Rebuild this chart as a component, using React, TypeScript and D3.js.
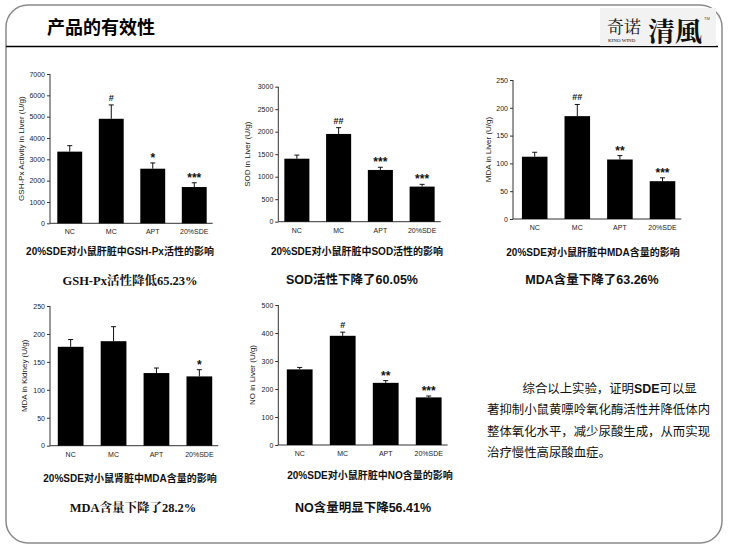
import React, { useEffect, useRef } from "react";
import * as d3 from "d3";

// groups shared by every panel
const groups = ["NC", "MC", "APT", "20%SDE"];

// GSH-Px activity in liver
const gshPx = [3360, 4900, 2560, 1700];
const gshPxErr = [280, 650, 270, 200];
const gshPxSig = ["", "#", "*", "***"];

// SOD in liver
const sod = [1400, 1950, 1150, 780];
const sodErr = [80, 140, 60, 50];
const sodSig = ["", "##", "***", "***"];

// MDA in liver
const mdaLiver = [112, 185, 107, 68];
const mdaLiverErr = [8, 21, 7, 6];
const mdaLiverSig = ["", "##", "**", "***"];

// MDA in kidney
const mdaKidney = [177, 187, 130, 124];
const mdaKidneyErr = [13, 26, 9, 12];
const mdaKidneySig = ["", "", "", "*"];

// NO in liver
const noLiver = [270, 390, 222, 170];
const noLiverErr = [7, 13, 8, 5];
const noLiverSig = ["", "#", "**", "***"];

// conclusion, split into lines; "SDE" is set in bold
const summary = [
  ["综合以上实验，证明", "SDE", "可以显"],
  ["著抑制小鼠黄嘌呤氧化酶活性并降低体内"],
  ["整体氧化水平，减少尿酸生成，从而实现"],
  ["治疗慢性高尿酸血症。"],
];

const SANS = "'Liberation Sans', Arial, 'Noto Sans CJK SC', sans-serif";
const SERIF = "'Liberation Serif', 'Noto Serif CJK SC', 'Noto Sans CJK SC', serif";

type Panel = {
  values: number[];
  errors: number[];
  sig: string[];
  max: number;
  step: number;
  yLabel: string;
  caption: string;
  result: string;
  resultFont: string;
  // layout
  axisX: number;
  yTop: number;
  yZero: number;
  band: [number, number];
  yLabelX: number;
  captionX: number;
  captionY: number;
  resultX: number;
  resultY: number;
};

const panels: Panel[] = [
  {
    values: gshPx, errors: gshPxErr, sig: gshPxSig, max: 7000, step: 1000,
    yLabel: "GSH-Px Activity in Liver (U/g)",
    caption: "20%SDE对小鼠肝脏中GSH-Px活性的影响",
    result: "GSH-Px活性降低65.23%", resultFont: SERIF,
    axisX: 50, yTop: 74, yZero: 223.3, band: [49, 215], yLabelX: 24,
    captionX: 120, captionY: 255, resultX: 130, resultY: 285,
  },
  {
    values: sod, errors: sodErr, sig: sodSig, max: 3000, step: 500,
    yLabel: "SOD in Liver (U/g)",
    caption: "20%SDE对小鼠肝脏中SOD活性的影响",
    result: "SOD活性下降了60.05%", resultFont: SANS,
    axisX: 278.3, yTop: 86.7, yZero: 221.7, band: [276, 443], yLabelX: 250,
    captionX: 357, captionY: 255, resultX: 352, resultY: 284,
  },
  {
    values: mdaLiver, errors: mdaLiverErr, sig: mdaLiverSig, max: 250, step: 50,
    yLabel: "MDA in Liver (U/g)",
    caption: "20%SDE对小鼠肝脏中MDA含量的影响",
    result: "MDA含量下降了63.26%", resultFont: SANS,
    axisX: 513, yTop: 80, yZero: 219, band: [513.4, 683.8], yLabelX: 491,
    captionX: 593, captionY: 256, resultX: 592, resultY: 284,
  },
  {
    values: mdaKidney, errors: mdaKidneyErr, sig: mdaKidneySig, max: 250, step: 50,
    yLabel: "MDA in Kidney (U/g)",
    caption: "20%SDE对小鼠肾脏中MDA含量的影响",
    result: "MDA含量下降了28.2%", resultFont: SERIF,
    axisX: 50, yTop: 306, yZero: 445.7, band: [49.2, 220.8], yLabelX: 27,
    captionX: 130, captionY: 482, resultX: 133, resultY: 512,
  },
  {
    values: noLiver, errors: noLiverErr, sig: noLiverSig, max: 500, step: 100,
    yLabel: "NO in Liver (U/g)",
    caption: "20%SDE对小鼠肝脏中NO含量的影响",
    result: "NO含量明显下降56.41%", resultFont: SANS,
    axisX: 278.3, yTop: 305, yZero: 445, band: [278.2, 450.2], yLabelX: 255,
    captionX: 370, captionY: 479, resultX: 363, resultY: 512,
  },
];

function drawPanel(svg: d3.Selection<SVGSVGElement, unknown, null, undefined>, p: Panel) {
  const g = svg.append("g");
  const x = d3.scaleBand<string>().domain(groups).range(p.band).paddingInner(0.4).paddingOuter(0.2);
  const y = d3.scaleLinear().domain([0, p.max]).range([p.yZero, p.yTop]);

  // y axis
  const yAxis = d3.axisLeft(y)
    .tickValues(d3.range(0, p.max + 1, p.step))
    .tickFormat(d3.format("d"))
    .tickSize(3)
    .tickPadding(2);
  const ya = g.append("g").attr("transform", `translate(${p.axisX},0)`).call(yAxis);
  ya.select(".domain").attr("stroke", "#333").attr("d", `M0,${p.yZero}V${p.yTop}`);
  ya.selectAll(".tick line").attr("stroke", "#333");
  ya.selectAll(".tick text").attr("fill", "#222").style("font-size", "7px").style("font-family", SANS);

  // x axis
  const xEnd = (x("20%SDE") as number) + x.bandwidth() + 6;
  g.append("line")
    .attr("x1", p.axisX).attr("x2", xEnd)
    .attr("y1", p.yZero).attr("y2", p.yZero)
    .attr("stroke", "#333");
  g.selectAll(".xl").data(groups).join("text")
    .attr("x", d => (x(d) as number) + x.bandwidth() / 2)
    .attr("y", p.yZero + 11)
    .attr("text-anchor", "middle")
    .attr("fill", "#222")
    .style("font-size", "7px")
    .style("font-family", SANS)
    .text(d => d);

  // y axis title
  g.append("text")
    .attr("transform", `translate(${p.yLabelX},${(p.yTop + p.yZero) / 2}) rotate(-90)`)
    .attr("text-anchor", "middle")
    .attr("fill", "#222")
    .style("font-size", "8px")
    .style("font-family", SANS)
    .text(p.yLabel);

  const rows = groups.map((k, i) => ({ k, v: p.values[i], e: p.errors[i], s: p.sig[i] }));

  // error bars
  g.selectAll(".err").data(rows).join("path")
    .attr("d", d => {
      const cx = (x(d.k) as number) + x.bandwidth() / 2;
      return `M${cx},${y(d.v)}V${y(d.v + d.e)}M${cx - 2.5},${y(d.v + d.e)}H${cx + 2.5}`;
    })
    .attr("stroke", "#111")
    .attr("stroke-width", 1)
    .attr("fill", "none");

  // bars
  g.selectAll(".bar").data(rows).join("rect")
    .attr("x", d => x(d.k) as number)
    .attr("y", d => y(d.v))
    .attr("width", x.bandwidth())
    .attr("height", d => p.yZero - y(d.v))
    .attr("fill", "#000");

  // significance marks
  g.selectAll(".sig").data(rows.filter(d => d.s)).join("text")
    .attr("x", d => (x(d.k) as number) + x.bandwidth() / 2)
    .attr("y", d => y(d.v + d.e) - (d.s.startsWith("#") ? 4 : 1))
    .attr("text-anchor", "middle")
    .attr("fill", "#111")
    .style("font-size", d => (d.s.startsWith("#") ? "9px" : "12px"))
    .style("font-weight", "bold")
    .style("font-family", SANS)
    .text(d => d.s);

  // caption and result
  g.append("text")
    .attr("x", p.captionX).attr("y", p.captionY)
    .attr("text-anchor", "middle")
    .attr("fill", "#111")
    .style("font-size", "10px")
    .style("font-weight", "bold")
    .style("font-family", SANS)
    .text(p.caption);
  g.append("text")
    .attr("x", p.resultX).attr("y", p.resultY)
    .attr("text-anchor", "middle")
    .attr("fill", "#111")
    .style("font-size", "12.5px")
    .style("font-weight", "bold")
    .style("font-family", p.resultFont)
    .text(p.result);
}

const App = () => {
  const ref = useRef<SVGSVGElement>(null);

  useEffect(() => {
    const svg = d3.select(ref.current as SVGSVGElement);
    svg.selectAll("*").remove();

    svg.append("rect").attr("width", 730).attr("height", 548).attr("fill", "#fff");

    // slide frame
    svg.append("rect")
      .attr("x", 6).attr("y", 5).attr("width", 716).attr("height", 538)
      .attr("rx", 22).attr("ry", 22)
      .attr("fill", "none").attr("stroke", "#8a8a8a").attr("stroke-width", 1.5);

    // header
    svg.append("text")
      .attr("x", 47).attr("y", 34)
      .attr("fill", "#000")
      .style("font-size", "18px")
      .style("font-weight", "bold")
      .style("font-family", SANS)
      .text("产品的有效性");
    svg.append("line")
      .attr("x1", 6).attr("x2", 718).attr("y1", 46.5).attr("y2", 46.5)
      .attr("stroke", "#000").attr("stroke-width", 1.5);

    // logo
    const logo = svg.append("g");
    logo.append("rect").attr("x", 600).attr("y", 8).attr("width", 116).attr("height", 38).attr("fill", "#f2f2f2");
    logo.append("text").attr("x", 607).attr("y", 33)
      .style("font-size", "17px").style("font-family", SERIF).attr("fill", "#111").text("奇诺");
    logo.append("text").attr("x", 648).attr("y", 41)
      .style("font-size", "26px").style("font-weight", "bold").style("font-family", SERIF).attr("fill", "#111")
      .attr("textLength", 54).attr("lengthAdjust", "spacingAndGlyphs").text("清風");
    logo.append("text").attr("x", 608).attr("y", 42)
      .style("font-size", "5px").style("font-family", SERIF).attr("fill", "#111").text("KINO WIND");
    logo.append("text").attr("x", 704).attr("y", 20)
      .style("font-size", "4px").style("font-family", SANS).attr("fill", "#444").text("TM");

    panels.forEach(p => drawPanel(svg, p));

    // conclusion paragraph
    const para = svg.append("g").selectAll("text").data(summary).join("text")
      .attr("x", (d, i) => (i === 0 ? 522.5 : 487))
      .attr("y", (d, i) => 392.5 + i * 21.5)
      .attr("fill", "#111")
      .style("font-size", "12.4px")
      .style("font-family", SANS);
    para.selectAll("tspan").data(d => d).join("tspan")
      .style("font-weight", d => (d === "SDE" ? "bold" : "normal"))
      .text(d => d);
  }, []);

  return (
    <svg ref={ref} width={730} height={548} style={{ position: "absolute", left: 0, top: 0 }} />
  );
};

export default App;
